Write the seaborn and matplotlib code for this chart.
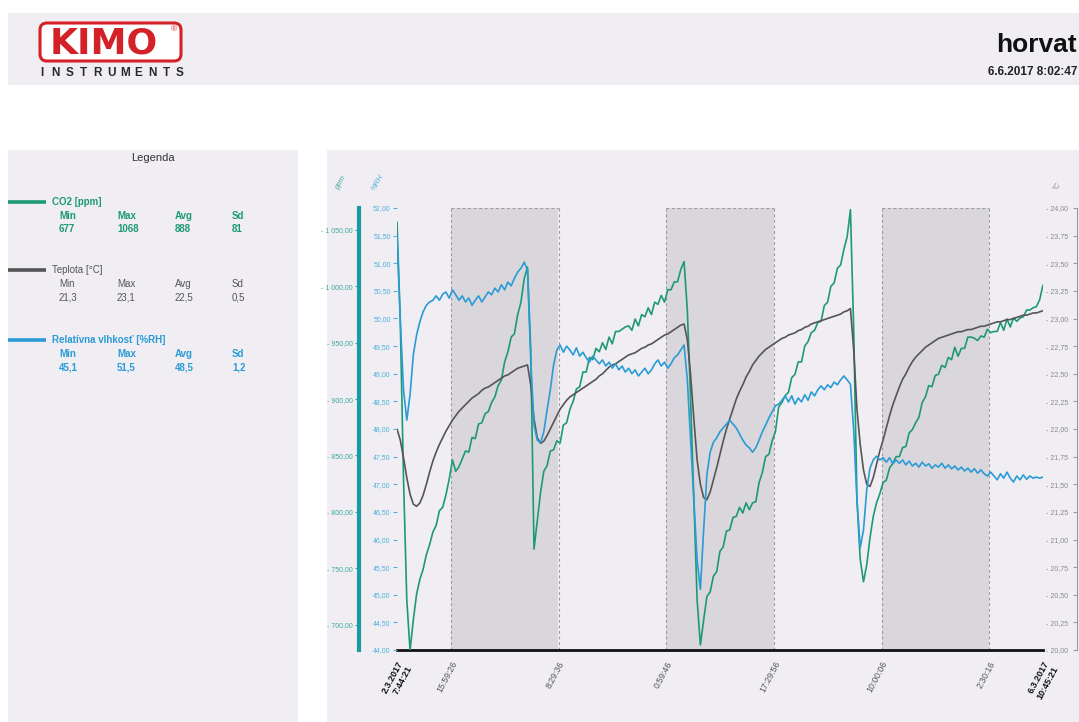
import numpy as np
import pandas as pd
import matplotlib
matplotlib.use("Agg")
import matplotlib.pyplot as plt
import matplotlib.dates as mdates
from matplotlib.patches import Rectangle, FancyBboxPatch
from matplotlib.ticker import FixedLocator, FuncFormatter
import seaborn as sns

# ---- measurement log, one sample every 30 minutes ----
start_time = "2017-03-02 07:44:21"
end_time = "2017-03-06 10:45:21"
sample_step = "30min"

co2_ppm = [
    1057, 970, 829, 722, 677, 704, 727, 740, 749, 762,
    771, 782, 788, 801, 804, 815, 829, 846, 836, 840,
    847, 854, 853, 866, 865, 878, 879, 887, 889, 897,
    902, 912, 917, 933, 942, 955, 958, 975, 986, 1007,
    1017, 944, 767, 792, 817, 836, 841, 854, 855, 863,
    861, 877, 879, 891, 898, 909, 911, 924, 924, 937,
    935, 945, 942, 950, 944, 955, 949, 960, 960, 962,
    964, 965, 961, 971, 965, 975, 973, 981, 975, 986,
    984, 992, 986, 997, 997, 1004, 1004, 1015, 1022, 979,
    900, 811, 722, 682, 704, 725, 729, 743, 747, 765,
    769, 783, 784, 795, 796, 804, 799, 808, 802, 808,
    809, 826, 835, 849, 851, 863, 871, 893, 897, 903,
    906, 919, 922, 933, 933, 947, 951, 959, 961, 968,
    969, 983, 986, 1000, 1003, 1016, 1019, 1033, 1044, 1068,
    962, 811, 758, 738, 753, 777, 796, 808, 816, 826,
    828, 839, 843, 849, 849, 857, 858, 870, 873, 879,
    884, 897, 902, 912, 911, 921, 922, 930, 928, 937,
    935, 946, 938, 945, 945, 955, 955, 954, 952, 956,
    955, 962, 959, 960, 960, 968, 961, 971, 964, 972,
    969, 972, 973, 979, 979, 981, 982, 988, 1001,
]

temp_c = [
    22.00, 21.90, 21.74, 21.56, 21.41, 21.32, 21.30, 21.33, 21.40, 21.50,
    21.61, 21.71, 21.79, 21.86, 21.92, 21.98, 22.03, 22.08, 22.12, 22.16,
    22.19, 22.22, 22.25, 22.28, 22.30, 22.32, 22.35, 22.37, 22.38, 22.40,
    22.42, 22.44, 22.46, 22.48, 22.49, 22.51, 22.53, 22.55, 22.56, 22.57,
    22.58, 22.40, 22.09, 21.92, 21.87, 21.89, 21.94, 22.00, 22.06, 22.12,
    22.18, 22.22, 22.26, 22.29, 22.31, 22.33, 22.35, 22.37, 22.39, 22.41,
    22.43, 22.45, 22.48, 22.50, 22.53, 22.56, 22.58, 22.59, 22.61, 22.63,
    22.65, 22.67, 22.68, 22.69, 22.71, 22.73, 22.74, 22.76, 22.77, 22.79,
    22.81, 22.83, 22.85, 22.86, 22.88, 22.90, 22.92, 22.94, 22.95, 22.81,
    22.49, 22.09, 21.72, 21.50, 21.38, 21.36, 21.43, 21.54, 21.65, 21.77,
    21.89, 22.00, 22.09, 22.18, 22.27, 22.34, 22.40, 22.47, 22.52, 22.58,
    22.62, 22.66, 22.69, 22.72, 22.74, 22.76, 22.78, 22.80, 22.82, 22.83,
    22.85, 22.86, 22.87, 22.89, 22.90, 22.92, 22.93, 22.95, 22.96, 22.97,
    22.98, 22.99, 23.00, 23.01, 23.02, 23.03, 23.04, 23.06, 23.07, 23.09,
    22.72, 22.18, 21.86, 21.63, 21.50, 21.48, 21.56, 21.68, 21.80, 21.90,
    22.01, 22.12, 22.22, 22.30, 22.38, 22.45, 22.50, 22.56, 22.61, 22.65,
    22.68, 22.71, 22.74, 22.76, 22.78, 22.80, 22.82, 22.83, 22.84, 22.85,
    22.86, 22.87, 22.88, 22.88, 22.89, 22.90, 22.90, 22.91, 22.92, 22.93,
    22.93, 22.94, 22.95, 22.96, 22.97, 22.97, 22.98, 22.99, 22.99, 23.00,
    23.01, 23.02, 23.03, 23.03, 23.04, 23.05, 23.05, 23.06, 23.07,
]

rh_pct = [
    51.50, 49.97, 48.71, 48.16, 48.62, 49.34, 49.70, 49.94, 50.12, 50.24,
    50.30, 50.33, 50.41, 50.33, 50.44, 50.48, 50.37, 50.52, 50.43, 50.33,
    50.41, 50.30, 50.37, 50.24, 50.33, 50.41, 50.30, 50.39, 50.48, 50.43,
    50.55, 50.48, 50.61, 50.52, 50.66, 50.59, 50.73, 50.84, 50.91, 51.02,
    50.88, 49.25, 48.07, 47.80, 47.75, 47.95, 48.34, 48.71, 49.16, 49.43,
    49.52, 49.39, 49.50, 49.43, 49.34, 49.47, 49.32, 49.39, 49.29, 49.21,
    49.32, 49.25, 49.18, 49.25, 49.14, 49.21, 49.10, 49.18, 49.07, 49.14,
    49.03, 49.10, 49.00, 49.07, 48.96, 49.03, 49.10, 49.00, 49.07, 49.18,
    49.25, 49.14, 49.21, 49.10, 49.18, 49.29, 49.34, 49.43, 49.52, 48.89,
    47.80, 46.71, 45.63, 45.10, 46.17, 47.17, 47.58, 47.76, 47.84, 47.95,
    48.02, 48.09, 48.16, 48.09, 48.02, 47.91, 47.80, 47.71, 47.66, 47.58,
    47.66, 47.80, 47.95, 48.07, 48.20, 48.31, 48.42, 48.45, 48.52, 48.60,
    48.49, 48.60, 48.45, 48.56, 48.49, 48.62, 48.52, 48.67, 48.60, 48.71,
    48.78, 48.71, 48.80, 48.75, 48.85, 48.80, 48.89, 48.96, 48.89, 48.81,
    47.98, 46.71, 45.85, 46.17, 46.90, 47.29, 47.44, 47.51, 47.44, 47.48,
    47.40, 47.48, 47.37, 47.44, 47.38, 47.44, 47.35, 47.42, 47.33, 47.38,
    47.31, 47.40, 47.33, 47.37, 47.29, 47.35, 47.31, 47.38, 47.29, 47.35,
    47.28, 47.33, 47.26, 47.31, 47.24, 47.29, 47.22, 47.28, 47.20, 47.26,
    47.19, 47.15, 47.22, 47.15, 47.08, 47.19, 47.11, 47.22, 47.11, 47.04,
    47.15, 47.08, 47.17, 47.09, 47.15, 47.11, 47.13, 47.11, 47.13,
]

# legend statistics
stat_headers = ["Min", "Max", "Avg", "Sd"]
co2_stats = ["677", "1068", "888", "81"]
temp_stats = ["21,3", "23,1", "22,5", "0,5"]
rh_stats = ["45,1", "51,5", "48,5", "1,2"]

# time axis marks and shaded intervals
tick_times = ["2017-03-02 07:44:21", "2017-03-02 15:59:26", "2017-03-03 08:29:36",
              "2017-03-04 00:59:46", "2017-03-04 17:29:56", "2017-03-05 10:00:06",
              "2017-03-06 02:30:16", "2017-03-06 10:45:21"]
tick_labels = ["2.3.2017\n7:44:21", "15:59:26", "8:29:36", "0:59:46",
               "17:29:56", "10:00:06", "2:30:16", "6.3.2017\n10:45:21"]
shaded_spans = [(1, 2), (3, 4), (5, 6)]

co2_ticks = [700, 750, 800, 850, 900, 950, 1000, 1050]
co2_range = (677.5, 1069.5)
rh_ticks = [44.0, 44.5, 45.0, 45.5, 46.0, 46.5, 47.0, 47.5, 48.0,
            48.5, 49.0, 49.5, 50.0, 50.5, 51.0, 51.5, 52.0]
rh_range = (44.0, 52.0)
temp_ticks = [20.0, 20.25, 20.5, 20.75, 21.0, 21.25, 21.5, 21.75, 22.0,
              22.25, 22.5, 22.75, 23.0, 23.25, 23.5, 23.75, 24.0]
temp_range = (20.0, 24.0)

# ---- colours ----
GREEN = "#1d9a73"
GREEN_AX = "#1b9aa0"
GREEN_LBL = "#3fa99a"
GRAY = "#555555"
BLUE = "#2a9bd6"
BLUE_LBL = "#4fb0dc"
PANEL = "#f0eef3"
BAND = "#d9d6dc"

sns.set_style("white")
plt.rcParams["font.family"] = ["Liberation Sans", "DejaVu Sans"]

W, H = 1079, 722
fig = plt.figure(figsize=(W / 100, H / 100), dpi=100)
fig.patch.set_facecolor("white")

# page layer in pixel units (y down)
bg = fig.add_axes([0, 0, 1, 1], zorder=0)
bg.set_xlim(0, W)
bg.set_ylim(H, 0)
bg.axis("off")
for x0, y0, x1, y1 in [(8, 13, 1079, 85), (8, 150, 298, 722), (327, 150, 1079, 722)]:
    bg.add_patch(Rectangle((x0, y0), x1 - x0, y1 - y0, facecolor=PANEL, edgecolor="none"))

# logo
bg.add_patch(FancyBboxPatch((40, 23), 141, 38, boxstyle="round,pad=0,rounding_size=7",
                            facecolor="white", edgecolor="#d42027", linewidth=2.2))
bg.text(104, 43, "KIMO", color="#d42027", fontsize=26, fontweight="bold",
        family="DejaVu Sans", ha="center", va="center")
bg.text(174, 30, "®", color="#d42027", fontsize=6, ha="center", va="center")
for i, ch in enumerate("INSTRUMENTS"):
    bg.text(42 + i * 13.8, 73, ch, color="#2a2a2a", fontsize=8.5, fontweight="bold",
            ha="center", va="center")

# report header
bg.text(1077, 45, "horvat", fontsize=19, fontweight="bold", color="#111", ha="right", va="center")
bg.text(1077, 72, "6.6.2017 8:02:47", fontsize=8.5, fontweight="bold", color="#222",
        ha="right", va="center")

# legend panel
bg.text(153, 158, "Legenda", fontsize=8, color="#333", ha="center", va="center")
col_x = [59, 117, 175, 232]
entries = [
    (202, "CO2 [ppm]", GREEN, "bold", co2_stats),
    (270, "Teplota [°C]", GRAY, "normal", temp_stats),
    (340, "Relatívna vlhkosť [%RH]", BLUE, "bold", rh_stats),
]
for y, title, col, wt, stats in entries:
    bg.plot([8, 46], [y, y], color=col, lw=2.6, solid_capstyle="butt")
    bg.text(52, y, title, color=col, fontsize=7, fontweight=wt, ha="left", va="center")
    for cx, hd, val in zip(col_x, stat_headers, stats):
        bg.text(cx, y + 14, hd, color=col, fontsize=7, fontweight=wt, ha="left", va="center")
        bg.text(cx, y + 27, val, color=col, fontsize=7, fontweight=wt, ha="left", va="center")

# axis unit captions
bg.text(341, 183, "ppm", color=GREEN_LBL, fontsize=5.5, rotation=60, ha="center", va="center", style="italic")
bg.text(378, 183, "%RH", color=BLUE_LBL, fontsize=5.5, rotation=60, ha="center", va="center", style="italic")
bg.text(1057, 187, "°C", color="#888", fontsize=5.5, rotation=60, ha="center", va="center", style="italic")

# ---- data frame ----
times = pd.date_range(start_time, periods=len(co2_ppm), freq=sample_step)
df = pd.DataFrame({"time": times, "co2": co2_ppm, "temp": temp_c, "rh": rh_pct})

tnum = mdates.date2num(pd.to_datetime(tick_times))
t_start = mdates.date2num(pd.Timestamp(start_time))
t_end = mdates.date2num(pd.Timestamp(end_time))

PX = 100 / 72.0  # pixels per point
rect = [397 / W, (H - 650) / H, 646 / W, 442 / H]
ax = fig.add_axes(rect, zorder=1)
ax.set_facecolor(PANEL)
ax.set_xlim(t_start, t_end)
ax.set_ylim(0, 1)
ax.set_yticks([])
for s in ["left", "right", "top"]:
    ax.spines[s].set_visible(False)
ax.spines["bottom"].set_color("#111")
ax.spines["bottom"].set_linewidth(2)

for i0, i1 in shaded_spans:
    a, b = tnum[i0], tnum[i1]
    ax.axvspan(a, b, color=BAND, lw=0, zorder=0)
    for xv in (a, b):
        ax.plot([xv, xv], [0, 1], color="#9a98a0", lw=0.8, ls=(0, (2.5, 2.5)), zorder=0.5)
    ax.plot([a, b], [1, 1], color="#9a98a0", lw=0.8, ls=(0, (2.5, 2.5)), zorder=0.5, clip_on=False)

ax.xaxis.set_major_locator(FixedLocator(tnum))
ax.set_xticklabels(tick_labels, rotation=62, ha="right", va="top",
                   rotation_mode="anchor", fontsize=6.3, color="#555")
ax.tick_params(axis="x", direction="out", length=4, width=1, color="#111", pad=3)
xl = ax.get_xticklabels()
for i in (0, len(xl) - 1):
    xl[i].set_fontweight("bold")
    xl[i].set_color("#111")
    xl[i].set_fontsize(6.5)

def fmt(dec):
    def f(v, pos):
        s = f"{v:,.{dec}f}".replace(",", " ").replace(".", ",")
        return s
    return f

# CO2 axis (outer left)
ax_co2 = ax.twinx()
sns.lineplot(data=df, x="time", y="co2", ax=ax_co2, color=GREEN, lw=1.2, legend=False)
ax_co2.set_xlim(t_start, t_end)
ax_co2.set_ylim(*co2_range)
ax_co2.yaxis.set_ticks_position("left")
ax_co2.spines["left"].set_visible(True)
ax_co2.spines["left"].set_position(("outward", 38 / PX))
ax_co2.spines["left"].set_color(GREEN_AX)
ax_co2.spines["left"].set_linewidth(3)
for s in ["right", "top", "bottom"]:
    ax_co2.spines[s].set_visible(False)
ax_co2.yaxis.set_major_locator(FixedLocator(co2_ticks))
ax_co2.yaxis.set_major_formatter(FuncFormatter(lambda v, p: "- " + fmt(2)(v, p)))
ax_co2.tick_params(axis="y", direction="out", length=3, width=0.8, color=GREEN_LBL,
                   labelsize=5, labelcolor=GREEN_LBL, pad=1.5)
ax_co2.set_ylabel("")
ax_co2.set_xlabel("")

# temperature axis (right)
ax_t = ax.twinx()
sns.lineplot(data=df, x="time", y="temp", ax=ax_t, color=GRAY, lw=1.2, legend=False)
ax_t.set_xlim(t_start, t_end)
ax_t.set_ylim(*temp_range)
for s in ["left", "top", "bottom"]:
    ax_t.spines[s].set_visible(False)
ax_t.spines["right"].set_position(("outward", 34 / PX))
ax_t.spines["right"].set_color("#9a9a9a")
ax_t.spines["right"].set_linewidth(0.8)
ax_t.yaxis.set_major_locator(FixedLocator(temp_ticks))
ax_t.yaxis.set_major_formatter(FuncFormatter(lambda v, p: "- " + fmt(2)(v, p)))
ax_t.tick_params(axis="y", direction="in", length=3, width=0.8, color="#9a9a9a",
                 labelsize=5, labelcolor="#8a8a8a", pad=-31 / PX)
ax_t.set_ylabel("")
ax_t.set_xlabel("")

# relative humidity axis (inner left)
ax_rh = ax.twinx()
sns.lineplot(data=df, x="time", y="rh", ax=ax_rh, color=BLUE, lw=1.2, legend=False)
ax_rh.set_xlim(t_start, t_end)
ax_rh.set_ylim(*rh_range)
ax_rh.yaxis.set_ticks_position("left")
for s in ["left", "right", "top", "bottom"]:
    ax_rh.spines[s].set_visible(False)
ax_rh.yaxis.set_major_locator(FixedLocator(rh_ticks))
ax_rh.yaxis.set_major_formatter(FuncFormatter(fmt(2)))
ax_rh.tick_params(axis="y", direction="out", length=3, width=0.8, color=BLUE_LBL,
                  labelsize=5, labelcolor=BLUE_LBL, pad=1.5)
ax_rh.set_ylabel("")
ax_rh.set_xlabel("")

for a in (ax_co2, ax_t, ax_rh):
    a.tick_params(axis="x", which="both", bottom=False, labelbottom=False, top=False, labeltop=False)

ax.set_xlabel("")
fig.savefig("out.png", dpi=100)
